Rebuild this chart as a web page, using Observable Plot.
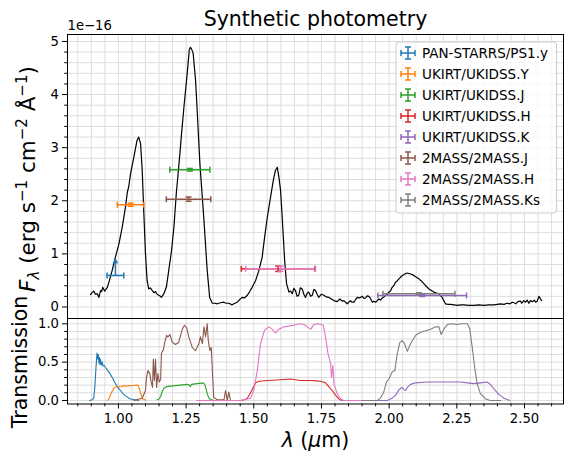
<!DOCTYPE html>
<html><head><meta charset="utf-8">
<script src="https://cdn.jsdelivr.net/npm/d3@7"></script>
<script src="https://cdn.jsdelivr.net/npm/@observablehq/plot@0.6"></script>
<style>
body{margin:0;background:#fff;}
#chart{position:relative;width:573px;height:467px;font-family:"DejaVu Sans",sans-serif;background:#fff;}
#chart svg{position:absolute;left:0;overflow:visible;}
</style></head><body><div id="chart"></div>
<script>
// ---------- data ----------
const filters = ["PAN-STARRS/PS1.y","UKIRT/UKIDSS.Y","UKIRT/UKIDSS.J","UKIRT/UKIDSS.H","UKIRT/UKIDSS.K","2MASS/2MASS.J","2MASS/2MASS.H","2MASS/2MASS.Ks"];
const colors = ["#1f77b4","#ff7f0e","#2ca02c","#d62728","#9467bd","#8c564b","#e377c2","#7f7f7f"];
// photometry: wavelength (um), half width (um), flux (1e-16 erg/s/cm2/A), flux error
const photLambda    = [0.989, 1.045, 1.264, 1.590, 2.122, 1.259, 1.599, 2.110];
const photLambdaErr = [0.031, 0.049, 0.074, 0.136, 0.164, 0.082, 0.129, 0.133];
const photFlux      = [0.593, 1.925, 2.584, 0.719, 0.217, 2.030, 0.720, 0.248];
const photFluxErr   = [0.232, 0.030, 0.025, 0.050, 0.020, 0.040, 0.050, 0.020];
const photLowerLim  = [true, false, false, false, false, false, false, false];

// spectrum (um, 1e-16 erg/s/cm2/A)
const specLambda = [0.897,0.903,0.909,0.915,0.922,0.928,0.934,0.938,0.942,0.946,0.950,0.955,0.959,0.967,0.977,0.989,1.002,1.014,1.026,1.033,1.038,1.045,1.057,1.069,1.075,1.082,1.088,1.094,1.100,1.106,1.112,1.118,1.125,1.131,1.137,1.143,1.149,1.155,1.159,1.168,1.177,1.186,1.196,1.205,1.214,1.223,1.229,1.233,1.242,1.254,1.262,1.266,1.270,1.276,1.285,1.291,1.301,1.316,1.328,1.337,1.347,1.356,1.365,1.377,1.389,1.398,1.408,1.420,1.430,1.439,1.448,1.457,1.466,1.476,1.485,1.494,1.507,1.519,1.531,1.540,1.550,1.562,1.572,1.580,1.587,1.593,1.599,1.605,1.614,1.621,1.630,1.636,1.642,1.648,1.654,1.660,1.666,1.672,1.679,1.685,1.691,1.697,1.703,1.710,1.716,1.722,1.728,1.734,1.740,1.750,1.759,1.768,1.777,1.784,1.796,1.808,1.818,1.826,1.833,1.845,1.857,1.863,1.870,1.876,1.882,1.891,1.901,1.907,1.913,1.919,1.925,1.931,1.938,1.944,1.950,1.956,1.962,1.968,1.975,1.981,1.987,1.993,1.999,2.005,2.011,2.017,2.024,2.030,2.036,2.042,2.048,2.055,2.061,2.067,2.073,2.079,2.085,2.092,2.098,2.104,2.110,2.119,2.128,2.137,2.147,2.156,2.165,2.175,2.184,2.190,2.196,2.202,2.208,2.218,2.227,2.240,2.252,2.264,2.276,2.295,2.313,2.330,2.350,2.368,2.387,2.400,2.412,2.424,2.436,2.446,2.455,2.461,2.468,2.475,2.485,2.490,2.497,2.504,2.510,2.516,2.522,2.530,2.536,2.541,2.547,2.553,2.563];
const specFlux = [0.235,0.27,0.30,0.24,0.25,0.18,0.31,0.29,0.37,0.33,0.30,0.34,0.37,0.50,0.69,0.94,1.19,1.50,1.88,2.16,2.26,2.51,2.82,3.14,3.20,3.07,2.57,1.76,1.00,0.50,0.34,0.36,0.31,0.27,0.29,0.24,0.22,0.20,0.18,0.25,0.37,0.69,1.05,1.50,2.15,2.65,3.00,3.25,3.76,4.39,4.85,4.89,4.86,4.78,4.27,3.70,2.70,1.63,0.69,0.18,0.07,0.07,0.06,0.08,0.09,0.07,0.07,0.04,0.07,0.09,0.14,0.18,0.17,0.22,0.29,0.37,0.50,0.69,0.94,1.31,1.69,2.07,2.38,2.57,2.63,2.44,2.19,1.69,0.88,0.44,0.28,0.30,0.25,0.35,0.31,0.20,0.22,0.36,0.34,0.24,0.18,0.26,0.28,0.20,0.22,0.33,0.31,0.24,0.18,0.24,0.22,0.19,0.18,0.16,0.12,0.10,0.15,0.11,0.12,0.06,0.12,0.09,0.09,0.14,0.18,0.17,0.20,0.16,0.17,0.21,0.20,0.16,0.09,0.11,0.09,0.12,0.15,0.13,0.17,0.19,0.22,0.24,0.28,0.30,0.37,0.40,0.47,0.49,0.53,0.56,0.59,0.61,0.63,0.64,0.63,0.62,0.61,0.59,0.57,0.55,0.53,0.49,0.44,0.39,0.34,0.31,0.28,0.26,0.25,0.21,0.18,0.12,0.06,0.05,0.05,0.04,0.03,0.04,0.04,0.03,0.03,0.04,0.03,0.04,0.04,0.05,0.06,0.05,0.07,0.06,0.09,0.08,0.06,0.10,0.11,0.07,0.12,0.09,0.13,0.07,0.12,0.10,0.13,0.09,0.11,0.20,0.12];

// filter transmission curves [um, T]
const transPS1y = [[0.894,0],[0.903,0.01],[0.909,0.03],[0.913,0.18],[0.917,0.42],[0.921,0.62],[0.924,0.54],[0.926,0.60],[0.928,0.49],[0.930,0.56],[0.932,0.47],[0.934,0.54],[0.937,0.46],[0.940,0.50],[0.943,0.45],[0.947,0.46],[0.952,0.43],[0.961,0.39],[0.969,0.35],[0.977,0.30],[0.989,0.22],[1.000,0.16],[1.008,0.13],[1.017,0.09],[1.026,0.06],[1.035,0.04],[1.045,0.02],[1.060,0.01],[1.075,0]];
const transUKY = [[0.959,0],[0.965,0.02],[0.970,0.07],[0.977,0.12],[0.983,0.16],[0.990,0.175],[1.002,0.18],[1.020,0.19],[1.038,0.19],[1.055,0.195],[1.072,0.2],[1.076,0.17],[1.080,0.12],[1.085,0.06],[1.090,0.02],[1.100,0.005]];
const transUKJ = [[1.143,0.01],[1.150,0.02],[1.156,0.05],[1.162,0.12],[1.168,0.16],[1.178,0.18],[1.199,0.19],[1.229,0.20],[1.254,0.21],[1.262,0.20],[1.266,0.18],[1.270,0.21],[1.291,0.22],[1.313,0.23],[1.319,0.21],[1.324,0.15],[1.328,0.09],[1.333,0.04],[1.338,0.02],[1.352,0]];
const transUKH = [[1.316,0],[1.451,0],[1.466,0.01],[1.476,0.03],[1.488,0.10],[1.498,0.17],[1.507,0.23],[1.519,0.25],[1.550,0.26],[1.599,0.27],[1.636,0.28],[1.673,0.26],[1.710,0.26],[1.730,0.255],[1.747,0.25],[1.765,0.23],[1.777,0.18],[1.790,0.13],[1.802,0.07],[1.814,0.02],[1.827,0],[1.840,0]];
const transUKK = [[1.821,0],[1.993,0],[2.011,0.03],[2.024,0.07],[2.036,0.14],[2.048,0.17],[2.055,0.14],[2.061,0.13],[2.067,0.17],[2.079,0.21],[2.098,0.23],[2.141,0.24],[2.190,0.24],[2.264,0.24],[2.289,0.23],[2.313,0.22],[2.337,0.23],[2.362,0.24],[2.374,0.21],[2.387,0.15],[2.405,0.08],[2.424,0.03],[2.446,0]];
const trans2MJ = [[1.057,0],[1.088,0.03],[1.100,0.13],[1.104,0.30],[1.109,0.39],[1.116,0.35],[1.121,0.24],[1.126,0.17],[1.129,0.54],[1.133,0.26],[1.137,0.54],[1.141,0.17],[1.146,0.35],[1.151,0.24],[1.156,0.28],[1.159,0.62],[1.166,0.66],[1.170,0.74],[1.178,0.85],[1.183,0.83],[1.190,0.86],[1.199,0.76],[1.211,0.73],[1.223,0.76],[1.236,0.93],[1.244,0.98],[1.252,0.95],[1.260,0.83],[1.273,0.69],[1.285,0.65],[1.297,0.74],[1.303,0.83],[1.310,0.74],[1.316,0.96],[1.322,0.83],[1.328,1.0],[1.332,0.78],[1.338,0.65],[1.343,0.69],[1.347,0.39],[1.352,0.04],[1.365,0.01],[1.390,0.01],[1.396,0.13],[1.402,0],[1.408,0.11],[1.414,0]];
const trans2MH = [[1.289,0],[1.451,0],[1.488,0.03],[1.500,0.13],[1.513,0.39],[1.525,0.74],[1.540,0.92],[1.556,0.96],[1.568,0.93],[1.580,0.88],[1.593,0.93],[1.611,0.96],[1.648,0.98],[1.666,1.0],[1.685,0.99],[1.698,0.96],[1.710,0.93],[1.722,0.99],[1.740,1.0],[1.757,0.98],[1.765,0.83],[1.774,0.61],[1.784,0.48],[1.787,0.30],[1.792,0.46],[1.796,0.22],[1.808,0.09],[1.821,0.02],[1.833,0],[1.907,0]];
const trans2MKs = [[1.901,0],[1.956,0],[1.968,0.03],[1.980,0.11],[1.990,0.24],[1.999,0.28],[2.011,0.37],[2.021,0.39],[2.030,0.61],[2.040,0.76],[2.048,0.78],[2.057,0.74],[2.067,0.64],[2.079,0.74],[2.098,0.85],[2.116,0.89],[2.135,0.91],[2.153,0.93],[2.172,0.96],[2.184,0.96],[2.192,0.86],[2.202,0.93],[2.215,0.99],[2.233,1.0],[2.252,0.99],[2.264,1.0],[2.276,1.0],[2.289,1.0],[2.298,0.93],[2.307,0.69],[2.316,0.43],[2.325,0.22],[2.337,0.09],[2.356,0.02],[2.374,0],[2.412,0]];
const transCurves = [transPS1y, transUKY, transUKJ, transUKH, transUKK, trans2MJ, trans2MH, trans2MKs];

// tick values
const xMajor = [1.0, 1.25, 1.5, 1.75, 2.0, 2.25, 2.5];
const yTopMajor = [0, 1, 2, 3, 4, 5];
const yBotMajor = [0, 0.5, 1.0];

// ---------- layout ----------
const W = 573;
const xDomain = [0.812, 2.644];
const topDomain = [-0.217, 5.131];
const botDomain = [-0.046, 1.069];
const gridColor = "#dddddd";
const round3 = v => Math.round(v * 1000) / 1000;
const xMinor = d3.range(17, 53).map(i => round3(i * 0.05));
const xMinorOnly = xMinor.filter(v => !xMajor.some(m => Math.abs(m - v) < 1e-6));
const yTopMinor = d3.range(0, 26).map(i => round3(i * 0.2));
const yTopMinorOnly = yTopMinor.filter(v => Math.abs(v - Math.round(v)) > 1e-6);
const yBotMinor = d3.range(0, 11).map(i => round3(i * 0.1));
const yBotMinorOnly = yBotMinor.filter(v => !yBotMajor.some(m => Math.abs(m - v) < 1e-6));

const spectrum = specLambda.map((x, i) => ({x, y: specFlux[i]}));
const phot = filters.map((name, i) => ({name, color: colors[i], x: photLambda[i], xerr: photLambdaErr[i], y: photFlux[i], yerr: photFluxErr[i], lolim: photLowerLim[i]}));
const trans = filters.flatMap((name, i) => transCurves[i].map(([x, t]) => ({name, color: colors[i], x, t})));

const vbar = {draw(ctx, size) { const r = Math.sqrt(size / Math.PI); ctx.moveTo(0, -r); ctx.lineTo(0, r); }};
const hbar = {draw(ctx, size) { const r = Math.sqrt(size / Math.PI); ctx.moveTo(-r, 0); ctx.lineTo(r, 0); }};

const plotStyle = {fontFamily: "DejaVu Sans", fontSize: "13.2px", color: "black", background: "transparent", overflow: "visible"};

const topPlot = Plot.plot({
  width: W, height: 318,
  marginLeft: 67, marginRight: 10, marginTop: 34, marginBottom: 0,
  x: {domain: xDomain, axis: null},
  y: {domain: topDomain},
  color: {type: "identity"},
  style: plotStyle,
  marks: [
    Plot.ruleX(xMinor, {stroke: gridColor, strokeWidth: 1}),
    Plot.ruleY(yTopMinor, {stroke: gridColor, strokeWidth: 1}),
    Plot.line(spectrum, {x: "x", y: "y", stroke: "black", strokeWidth: 1.2}),
    Plot.ruleY(phot, {y: "y", x1: d => d.x - d.xerr, x2: d => d.x + d.xerr, stroke: "color", strokeWidth: 1.5}),
    Plot.ruleX(phot, {x: "x", y1: d => d.lolim ? d.y : d.y - d.yerr, y2: d => d.y + d.yerr, stroke: "color", strokeWidth: 1.5}),
    Plot.dot(phot, {x: d => d.x - d.xerr, y: "y", symbol: vbar, r: 3, stroke: "color", fill: "none", strokeWidth: 1.5}),
    Plot.dot(phot, {x: d => d.x + d.xerr, y: "y", symbol: vbar, r: 3, stroke: "color", fill: "none", strokeWidth: 1.5}),
    Plot.dot(phot.filter(d => !d.lolim), {x: "x", y: d => d.y - d.yerr, symbol: hbar, r: 3, stroke: "color", fill: "none", strokeWidth: 1.5}),
    Plot.dot(phot.filter(d => !d.lolim), {x: "x", y: d => d.y + d.yerr, symbol: hbar, r: 3, stroke: "color", fill: "none", strokeWidth: 1.5}),
    Plot.dot(phot.filter(d => d.lolim), {x: "x", y: d => d.y + d.yerr, symbol: "triangle", r: 2.1, fill: "color", stroke: "none", dy: -1.6}),
    Plot.frame({stroke: "black", strokeWidth: 1}),
    Plot.axisY(yTopMajor, {tickSize: 5, tickPadding: 3.5, tickFormat: d => String(d), label: null, strokeWidth: 1}),
    Plot.axisY(yTopMinorOnly, {tickSize: 2.8, tickFormat: () => "", label: null, strokeWidth: 1})
  ]
});

const bottomPlot = Plot.plot({
  width: W, height: 149,
  marginLeft: 67, marginRight: 10, marginTop: 0, marginBottom: 63.5,
  x: {domain: xDomain},
  y: {domain: botDomain},
  color: {type: "identity"},
  style: plotStyle,
  marks: [
    Plot.ruleX(xMinor, {stroke: gridColor, strokeWidth: 1}),
    Plot.ruleY(yBotMinor, {stroke: gridColor, strokeWidth: 1}),
    Plot.line(trans, {x: "x", y: "t", z: "name", stroke: "color", strokeWidth: 1.1}),
    Plot.frame({stroke: "black", strokeWidth: 1}),
    Plot.axisY(yBotMajor, {tickSize: 5, tickPadding: 3.5, tickFormat: d3.format(".1f"), label: null, strokeWidth: 1}),
    Plot.axisY(yBotMinorOnly, {tickSize: 2.8, tickFormat: () => "", label: null, strokeWidth: 1}),
    Plot.axisX(xMajor, {tickSize: 5, tickPadding: 4.5, tickFormat: d3.format(".2f"), label: null, strokeWidth: 1}),
    Plot.axisX(xMinorOnly, {tickSize: 2.8, tickFormat: () => "", label: null, strokeWidth: 1})
  ]
});

const chart = document.getElementById("chart");
topPlot.style.top = "0px";
bottomPlot.style.top = "318px";
chart.appendChild(topPlot);
chart.appendChild(bottomPlot);

// ---------- overlay: title, labels, legend ----------
const ov = d3.select(chart).append("svg")
  .attr("width", W).attr("height", 467)
  .style("top", "0px").style("pointer-events", "none")
  .attr("font-family", "DejaVu Sans");

ov.append("text").attr("x", 315.5).attr("y", 26).attr("text-anchor", "middle")
  .attr("font-size", 20.5).text("Synthetic photometry");
ov.append("text").attr("x", 67.5).attr("y", 30).attr("font-size", 13.2).text("1e\u221216");

// y label (top)
const yl = ov.append("text").attr("transform", "translate(35,179) rotate(-90)")
  .attr("text-anchor", "middle").attr("font-size", 21.5);
yl.append("tspan").attr("font-style", "italic").text("F");
yl.append("tspan").attr("font-style", "italic").attr("font-size", 15).attr("dy", 4).text("\u03bb");
yl.append("tspan").attr("dy", -4).text(" (erg s");
yl.append("tspan").attr("font-size", 15).attr("dy", -8.5).text("\u22121");
yl.append("tspan").attr("dy", 8.5).text(" cm");
yl.append("tspan").attr("font-size", 15).attr("dy", -8.5).text("\u22122");
yl.append("tspan").attr("dy", 8.5).text(" \u00c5");
yl.append("tspan").attr("font-size", 15).attr("dy", -8.5).text("\u22121");
yl.append("tspan").attr("dy", 8.5).text(")");

// y label (bottom)
ov.append("text").attr("transform", "translate(27,362) rotate(-90)")
  .attr("text-anchor", "middle").attr("font-size", 20.5).text("Transmission");

// x label
const xl = ov.append("text").attr("x", 315.5).attr("y", 447).attr("text-anchor", "middle").attr("font-size", 20.5);
xl.append("tspan").attr("font-style", "italic").text("\u03bb");
xl.append("tspan").text(" (");
xl.append("tspan").attr("font-style", "italic").text("\u03bc");
xl.append("tspan").text("m)");

// legend
const lg = ov.append("g");
lg.append("rect").attr("x", 396).attr("y", 42).attr("width", 160.5).attr("height", 171).attr("rx", 3)
  .attr("fill", "white").attr("fill-opacity", 0.8).attr("stroke", "#cccccc").attr("stroke-width", 1);
phot.forEach((d, i) => {
  const cy = 53 + 21 * i;
  const g = lg.append("g").attr("stroke", d.color).attr("stroke-width", 1.5).attr("fill", "none");
  g.append("line").attr("x1", 401).attr("x2", 415).attr("y1", cy).attr("y2", cy);
  g.append("line").attr("x1", 408).attr("x2", 408).attr("y1", cy - 6).attr("y2", cy + 6);
  g.append("line").attr("x1", 401).attr("x2", 401).attr("y1", cy - 3).attr("y2", cy + 3);
  g.append("line").attr("x1", 415).attr("x2", 415).attr("y1", cy - 3).attr("y2", cy + 3);
  g.append("line").attr("x1", 405).attr("x2", 411).attr("y1", cy - 6).attr("y2", cy - 6);
  g.append("line").attr("x1", 405).attr("x2", 411).attr("y1", cy + 6).attr("y2", cy + 6);
  lg.append("text").attr("x", 422).attr("y", cy + 4.8).attr("font-size", 13.5).attr("fill", "black").text(d.name);
});
</script></body></html>
